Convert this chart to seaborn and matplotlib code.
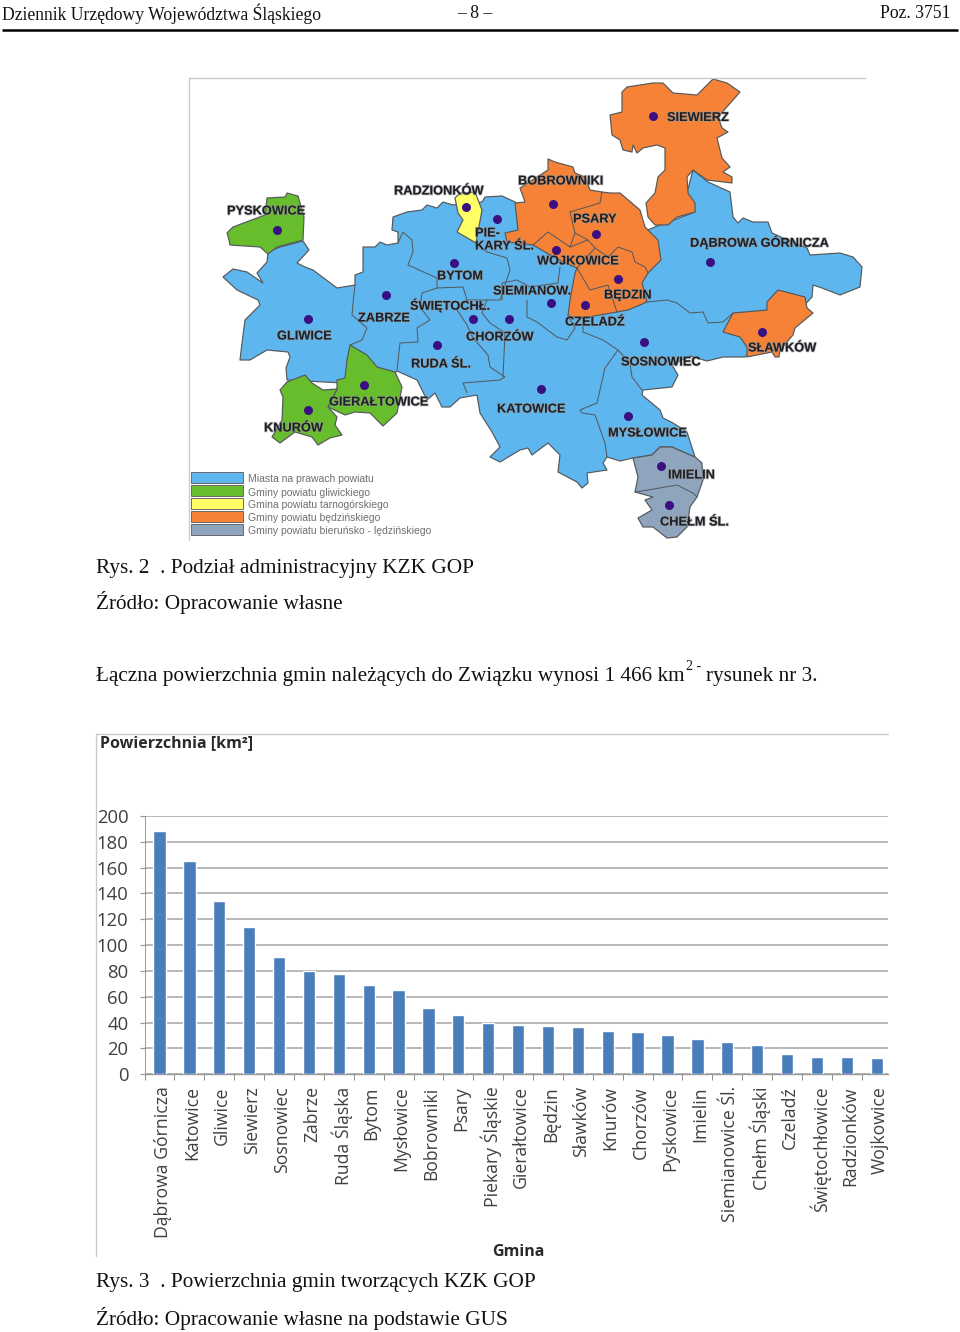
import matplotlib
matplotlib.use('Agg')
import matplotlib.pyplot as plt
import matplotlib.patheffects as pe
from matplotlib.ticker import FixedLocator, NullFormatter
from matplotlib.transforms import ScaledTranslation
import pandas as pd
import seaborn as sns

# Dane wykresu
gminy = ['Dąbrowa Górnicza', 'Katowice', 'Gliwice', 'Siewierz', 'Sosnowiec', 'Zabrze', 'Ruda Śląska',
         'Bytom', 'Mysłowice', 'Bobrowniki', 'Psary', 'Piekary Śląskie', 'Gierałtowice', 'Będzin',
         'Sławków', 'Knurów', 'Chorzów', 'Pyskowice', 'Imielin', 'Siemianowice Śl.', 'Chełm Śląski',
         'Czeladź', 'Świętochłowice', 'Radzionków', 'Wojkowice']
powierzchnia = [188, 165, 134, 114, 91, 80, 78, 69, 65, 51, 46, 40, 38.2, 37.5, 36.4, 33.6, 32.8,
                30.5, 27.4, 25.3, 22.7, 16, 13.2, 13.2, 12.4]
y_ticks = [0, 20, 40, 60, 80, 100, 120, 140, 160, 180, 200]

# Kontury na mapie (piksele strony)
blue_area = [(223, 277), (233, 269), (247, 272), (263, 283), (257, 273), (267, 262), (268, 252), (280, 247),
             (303, 241), (309, 250), (297, 263), (305, 267), (313, 270), (337, 288), (355, 285), (355, 275),
             (363, 272), (363, 247), (375, 247), (380, 242), (387, 245), (398, 243), (398, 232), (392, 230),
             (393, 217), (407, 212), (422, 210), (427, 205), (437, 208), (443, 202), (453, 205), (482, 202),
             (485, 197), (502, 196), (515, 202), (600, 250), (655, 227), (695, 212), (687, 193), (693, 170),
             (708, 182), (730, 192), (733, 217), (738, 223), (743, 218), (753, 222), (768, 222), (772, 233),
             (783, 238), (807, 248), (810, 255), (840, 253), (853, 257), (862, 267), (860, 287), (840, 295),
             (822, 288), (813, 285), (812, 297), (800, 310), (745, 357), (723, 357), (707, 361), (690, 356),
             (672, 365), (678, 375), (672, 387), (643, 390), (642, 395), (660, 410), (663, 418), (673, 423),
             (687, 432), (695, 457), (690, 455), (672, 447), (660, 447), (652, 455), (633, 458), (620, 461),
             (607, 457), (603, 463), (607, 470), (587, 473), (588, 483), (582, 488), (577, 482), (558, 472),
             (560, 455), (548, 443), (532, 455), (528, 448), (520, 450), (500, 462), (490, 457), (500, 447),
             (492, 432), (480, 413), (477, 395), (460, 398), (450, 407), (442, 407), (435, 393), (427, 400),
             (417, 380), (397, 371), (380, 385), (287, 380), (286, 368), (290, 357), (288, 352), (267, 350),
             (250, 360), (240, 360), (242, 343), (245, 320), (260, 305), (258, 300), (237, 290)]
green_areas = [
    [(227, 233), (233, 227), (265, 215), (267, 198), (285, 197), (287, 193), (298, 196), (304, 217), (303, 240),
     (277, 247), (268, 254), (260, 247), (230, 245), (229, 240)],
    [(350, 345), (367, 355), (377, 367), (395, 372), (402, 387), (397, 413), (383, 426), (370, 413), (355, 412),
     (345, 415), (328, 407), (337, 389), (337, 380), (345, 378), (347, 360)],
    [(287, 382), (305, 375), (312, 383), (323, 390), (337, 389), (328, 407), (337, 417), (335, 425), (342, 435),
     (330, 438), (318, 445), (312, 437), (295, 432), (280, 443), (272, 437), (282, 420), (283, 397), (280, 390)],
]
yellow_area = [(455, 198), (460, 193), (475, 192), (482, 210), (476, 243), (457, 232), (463, 220), (458, 213)]
orange_areas = [
    [(548, 159), (555, 162), (573, 167), (575, 173), (585, 177), (590, 190), (602, 192), (610, 193), (620, 193),
     (640, 210), (645, 227), (658, 240), (661, 260), (648, 273), (642, 283), (647, 302), (628, 310), (617, 312),
     (583, 318), (568, 316), (570, 300), (575, 273), (577, 268), (563, 262), (545, 252), (533, 245), (507, 242),
     (505, 233), (518, 230), (515, 203), (525, 202), (520, 188), (548, 170)],
    [(622, 92), (627, 87), (653, 83), (663, 83), (673, 93), (697, 95), (707, 85), (713, 79), (727, 83), (740, 92),
     (733, 100), (718, 117), (722, 128), (728, 132), (717, 138), (722, 158), (730, 167), (723, 172), (732, 177),
     (732, 183), (707, 180), (693, 170), (687, 177), (688, 193), (695, 203), (695, 212), (677, 217), (668, 225),
     (655, 225), (648, 217), (646, 203), (655, 193), (658, 177), (665, 170), (665, 148), (657, 145), (643, 148),
     (637, 153), (633, 145), (632, 152), (623, 150), (620, 140), (612, 135), (610, 115), (622, 112)],
    [(723, 332), (733, 313), (767, 310), (767, 302), (778, 290), (805, 297), (807, 308), (813, 313), (795, 328),
     (793, 335), (780, 350), (779, 357), (775, 357), (772, 352), (747, 357), (747, 347), (740, 337)],
]
grey_area = [(633, 458), (652, 455), (660, 447), (672, 447), (690, 455), (695, 457), (702, 463), (703, 480),
             (697, 497), (690, 507), (687, 527), (677, 537), (667, 538), (653, 527), (643, 527), (638, 518),
             (652, 510), (645, 500), (653, 497), (635, 492), (638, 477)]
inner_lines = [
    [(355, 285), (353, 303), (352, 315), (367, 328), (362, 340), (350, 345)],
    [(398, 243), (403, 232), (412, 240), (413, 252), (408, 265), (437, 278), (437, 288), (463, 287), (467, 300),
     (500, 300), (510, 270), (507, 258), (487, 252), (475, 243)],
    [(437, 288), (422, 293), (420, 307), (430, 320), (417, 328), (418, 342), (400, 343), (397, 370)],
    [(467, 300), (457, 310), (467, 325), (473, 338), (488, 355), (490, 367), (505, 377), (500, 380), (463, 383),
     (467, 393)],
    [(487, 300), (482, 313), (490, 323), (505, 333), (503, 377)],
    [(502, 300), (502, 283), (517, 280), (530, 287), (558, 283), (560, 267)],
    [(527, 300), (527, 317), (537, 322), (557, 337), (567, 340), (575, 328), (568, 316)],
    [(583, 318), (583, 332), (603, 340), (618, 350), (605, 368), (597, 403), (580, 410), (582, 413), (595, 415),
     (605, 443), (607, 457)],
    [(618, 350), (630, 363), (632, 377), (642, 390)],
    [(647, 302), (667, 300), (677, 303), (690, 313), (703, 312), (708, 323), (723, 322), (733, 313)],
    [(570, 212), (600, 203), (602, 192)],
    [(570, 212), (575, 233), (570, 247), (548, 232), (533, 245)],
    [(570, 247), (588, 240), (595, 248), (577, 268)],
    [(575, 233), (588, 240)],
    [(595, 248), (608, 257), (618, 247), (632, 252), (635, 262), (645, 267), (648, 273)],
    [(577, 268), (590, 290), (608, 285), (617, 312)],
    [(648, 490), (677, 485), (693, 493), (697, 497)],
    [(635, 492), (648, 490)],
]
dots_x = [653, 466, 497, 553, 596, 277, 710, 556, 454, 551, 618, 585, 386, 308, 473, 509, 437, 644, 762, 364,
          308, 541, 628, 661, 669]
dots_y = [116, 207, 219, 204, 234, 230, 262, 250, 263, 303, 279, 305, 295, 319, 319, 319, 345, 342, 332, 385,
          410, 389, 416, 466, 505]
map_labels = [('SIEWIERZ', 667, 118), ('RADZIONKÓW', 394, 191.5), ('BOBROWNIKI', 518, 181.5), ('PYSKOWICE', 227, 211.5),
              ('PSARY', 573, 219.5), ('PIE-', 475, 233.5), ('KARY ŚL.', 475, 246.5), ('DĄBROWA GÓRNICZA', 690, 242.5),
              ('WOJKOWICE', 537, 261.5), ('BYTOM', 437, 276.5), ('SIEMIANOW.', 493, 291.5), ('BĘDZIN', 604, 295.5),
              ('ŚWIĘTOCHŁ.', 410, 305.5), ('ZABRZE', 358, 318.5), ('CZELADŹ', 565, 322.5), ('GLIWICE', 277, 336.5),
              ('CHORZÓW', 466, 337.5), ('SOSNOWIEC', 621, 362.5), ('RUDA ŚL.', 411, 364.5), ('SŁAWKÓW', 748, 348.5),
              ('GIERAŁTOWICE', 329, 402.5), ('KATOWICE', 497, 409.5), ('KNURÓW', 264, 428.5), ('MYSŁOWICE', 608, 433.5),
              ('IMIELIN', 668, 475.5), ('CHEŁM ŚL.', 660, 522.5)]
legend_labels = ['Miasta na prawach powiatu', 'Gminy powiatu gliwickiego', 'Gmina powiatu tarnogórskiego',
                 'Gminy powiatu będzińskiego', 'Gminy powiatu bieruńsko - lędzińskiego']

BLUE = '#5eb6ef'
GREEN = '#68bd2d'
YELLOW = '#ffff66'
ORANGE = '#f58237'
GREY = '#8fa5bd'
legend_colors = [BLUE, GREEN, YELLOW, ORANGE, GREY]
legend_rows = [(472, 483), (485, 496), (498, 509), (511, 522), (524, 535)]
legend_text_y = [478.5, 492.5, 504.5, 518, 530.5]

sns.set_theme(style='white')
W, H = 960, 1332
fig = plt.figure(figsize=(W / 100, H / 100), dpi=100, facecolor='white')


def px(v):
    # piksele na punkty
    return v * 72 / 100


# Warstwa strony we wspolrzednych pikselowych
page = fig.add_axes([0, 0, 1, 1])
page.set_xlim(0, W)
page.set_ylim(H, 0)
page.axis('off')

serif = 'Liberation Serif'
page.text(2, 14, 'Dziennik Urzędowy Województwa Śląskiego', family=serif, fontsize=px(17.6), va='center', color='#111111')
page.text(475, 14, '– 8 –', family=serif, fontsize=px(17.6), va='center', ha='center', color='#111111')
page.text(950, 14, 'Poz. 3751', family=serif, fontsize=px(17.6), va='center', ha='right', color='#111111')
page.plot([2, 958], [30, 30], color='black', lw=px(2.5), solid_capstyle='butt')

page.text(96, 568, 'Rys. 2  . Podział administracyjny KZK GOP', family=serif, fontsize=px(21.3), va='center', color='#111111')
page.text(96, 603, 'Źródło: Opracowanie własne', family=serif, fontsize=px(21.3), va='center', color='#111111')
page.text(96, 676, 'Łączna powierzchnia gmin należących do Związku wynosi 1 466 km', family=serif, fontsize=px(21.3),
          va='center', color='#111111')
page.text(686, 667, '2 -', family=serif, fontsize=px(14), va='center', color='#111111')
page.text(706, 676, 'rysunek nr 3.', family=serif, fontsize=px(21.3), va='center', color='#111111')
page.text(96, 1283, 'Rys. 3  . Powierzchnia gmin tworzących KZK GOP', family=serif, fontsize=px(21.3), va='center', color='#111111')
page.text(96, 1318, 'Źródło: Opracowanie własne na podstawie GUS', family=serif, fontsize=px(21.3), va='center', color='#111111')

# Ramki rysunkow
page.plot([189, 189, 865], [540, 78, 78], color='#c9c9c9', lw=px(1.3))
page.plot([96, 96, 888], [1256, 734, 734], color='#c9c9c9', lw=px(1.3))

# Mapa
edge = '#55585c'


def area(points, color):
    xs, ys = zip(*points)
    page.fill(xs, ys, facecolor=color, edgecolor=edge, lw=px(1.2), joinstyle='round')


area(blue_area, BLUE)
for poly in green_areas:
    area(poly, GREEN)
area(yellow_area, YELLOW)
for poly in orange_areas:
    area(poly, ORANGE)
area(grey_area, GREY)
for line in inner_lines:
    xs, ys = zip(*line)
    page.plot(xs, ys, color=edge, lw=px(1.0))

page.scatter(dots_x, dots_y, s=px(9) ** 2, color='#3a0f82', linewidths=0, zorder=5)
halo = [pe.withStroke(linewidth=1.2, foreground='#9a9a9a', alpha=0.6)]
for name, x, y in map_labels:
    page.text(x, y, name, family='Liberation Sans', fontweight='bold', fontsize=px(12.8), va='center',
              color='#1d2026', zorder=6, path_effects=halo)

# Legenda mapy
for (y0, y1), color, label, ty in zip(legend_rows, legend_colors, legend_labels, legend_text_y):
    page.fill([191, 243, 243, 191], [y0, y0, y1, y1], facecolor=color, edgecolor='#6b6b6b', lw=px(1))
    page.text(248, ty, label, family='Liberation Sans', fontsize=px(10.4), va='center', color='#6f6f6f')

page.text(100, 743, 'Powierzchnia [km²]', family='Open Sans', fontweight='bold', fontsize=px(16), va='center',
          color='#2a2a2a')
page.text(518, 1252, 'Gmina', family='Open Sans', fontweight='bold', fontsize=px(16), va='center', ha='center',
          color='#2a2a2a')

# Wykres slupkowy - prawa krawedz przycieta na 888 px jak w oryginale
left_px, right_px, step_px = 144.6, 888, 29.88
ax = fig.add_axes([left_px / W, 1 - 1074.3 / H, (right_px - left_px) / W, (1074.3 - 816) / H])
ax.patch.set_alpha(0)
df = pd.DataFrame({'gmina': gminy, 'powierzchnia': powierzchnia})
sns.barplot(data=df, x='gmina', y='powierzchnia', color='#4a7ebb', saturation=1, width=0.41, ax=ax, zorder=3)
ax.set_xlim(-0.5, -0.5 + (right_px - left_px) / step_px)
ax.set_ylim(0, 200)
ax.set_xlabel('')
ax.set_ylabel('')
ax.set_yticks(y_ticks)
ax.set_axisbelow(True)
ax.grid(axis='y', color='#a8a8a8', lw=px(1.6))
ax.grid(axis='x', visible=False)
for side in ['top', 'right']:
    ax.spines[side].set_visible(False)
ax.spines['left'].set_color('#9a9a9a')
ax.spines['left'].set_linewidth(px(1))
ax.spines['bottom'].set_color('#9a9a9a')
ax.spines['bottom'].set_linewidth(px(1.4))
ax.xaxis.set_minor_locator(FixedLocator([i - 0.5 for i in range(len(gminy))]))
ax.xaxis.set_minor_formatter(NullFormatter())
ax.tick_params(axis='x', which='minor', bottom=True, length=px(6), width=px(1), color='#8f8f8f')
ax.tick_params(axis='x', which='major', bottom=False, length=0, pad=px(12), labelsize=px(17.6), labelcolor='#404040')
ax.tick_params(axis='y', left=True, length=px(5), width=px(1.2), color='#9a9a9a', pad=px(11), labelsize=px(18.5),
               labelcolor='#404040')
label_shift = ScaledTranslation(3 / 100, 0, fig.dpi_scale_trans)
for label in ax.get_xticklabels():
    label.set_rotation(90)
    label.set_family('Open Sans')
    label.set_va('top')
    label.set_ha('center')
    label.set_transform(label.get_transform() + label_shift)
for label in ax.get_yticklabels():
    label.set_family('Open Sans')

fig.savefig('out.png', dpi=100)
